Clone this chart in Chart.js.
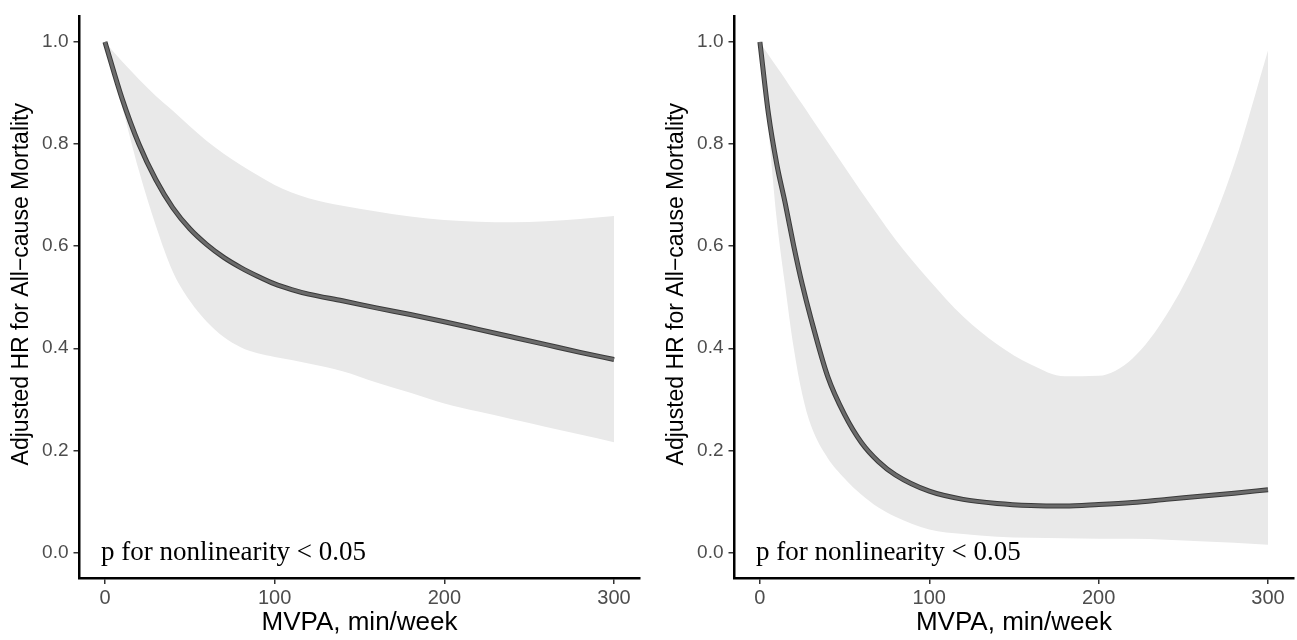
<!DOCTYPE html>
<html>
<head>
<meta charset="utf-8">
<script src="https://cdn.jsdelivr.net/npm/chart.js@4.4.1/dist/chart.umd.min.js"></script>
<style>
 html, body { margin: 0; padding: 0; background: #fff; }
 .panel { position: absolute; top: 0; height: 640px; }
 #leftWrap { left: 0; width: 648px; }
 #rightWrap { left: 655px; width: 642px; }
</style>
</head>
<body>
<div class="panel" id="leftWrap"><canvas id="leftChart"></canvas></div>
<div class="panel" id="rightWrap"><canvas id="rightChart"></canvas></div>
<script>
var leftMvpa = [0, 10, 20, 30, 40, 50, 60, 70, 80, 90, 100, 110, 120, 140, 160, 180, 200, 220, 240, 260, 280, 300];
var leftHr = [1.0, 0.89, 0.80, 0.73, 0.675, 0.634, 0.603, 0.578, 0.558, 0.541, 0.526, 0.515, 0.506, 0.493, 0.479, 0.466, 0.452, 0.437, 0.422, 0.407, 0.392, 0.378];
var leftUpper = [1.0, 0.962, 0.927, 0.894, 0.865, 0.835, 0.806, 0.781, 0.759, 0.739, 0.72, 0.705, 0.694, 0.679, 0.668, 0.658, 0.651, 0.648, 0.647, 0.649, 0.653, 0.659];
var leftLower = [1.0, 0.875, 0.748, 0.64, 0.55, 0.493, 0.452, 0.422, 0.402, 0.39, 0.383, 0.377, 0.37, 0.355, 0.333, 0.313, 0.292, 0.276, 0.261, 0.246, 0.231, 0.216];

var rightMvpa = [0, 5, 10, 15, 20, 25, 30, 40, 50, 60, 70, 80, 100, 120, 140, 160, 180, 200, 220, 240, 260, 280, 300];
var rightHr = [1.0, 0.86, 0.76, 0.683, 0.60, 0.525, 0.46, 0.345, 0.27, 0.215, 0.178, 0.152, 0.12, 0.104, 0.096, 0.092, 0.091, 0.094, 0.098, 0.104, 0.11, 0.116, 0.123];
var rightUpper = [1.0, 0.975, 0.951, 0.927, 0.902, 0.878, 0.853, 0.804, 0.755, 0.706, 0.659, 0.613, 0.533, 0.462, 0.408, 0.368, 0.345, 0.346, 0.38, 0.465, 0.59, 0.76, 0.983];
var rightLower = [1.0, 0.83, 0.65, 0.52, 0.40, 0.31, 0.25, 0.185, 0.145, 0.113, 0.088, 0.07, 0.045, 0.036, 0.031, 0.029, 0.028, 0.027, 0.027, 0.025, 0.022, 0.019, 0.015];

var xTicks = [0, 100, 200, 300];
var yTicks = [0.0, 0.2, 0.4, 0.6, 0.8, 1.0];
var xTitle = "MVPA, min/week";
var yTitle = "Adjusted HR for All\u2212cause Mortality";
var pText = "p for nonlinearity < 0.05";

var sansFont = "'Liberation Sans', Arial, Helvetica, sans-serif";

function toPoints(xs, ys) {
 return xs.map(function (x, i) {
  return { x: x, y: ys[i] };
 });
}

// p-value note at the bottom left, and the rotated y title
var notesPlugin = {
 id: "notes",
 afterDraw: function (chart) {
  var ctx = chart.ctx;
  var px = chart.scales.x.getPixelForValue(0) - 4;
  var py = chart.scales.y.getPixelForValue(0);
  ctx.save();
  ctx.font = "27px 'Liberation Serif', 'Times New Roman', serif";
  ctx.fillStyle = "#000";
  ctx.textAlign = "left";
  ctx.textBaseline = "middle";
  ctx.fillText(pText, px, py);
  ctx.restore();

  ctx.save();
  ctx.translate(22, chart.chartArea.top + chart.chartArea.height / 2 - 13);
  ctx.rotate(-Math.PI / 2);
  ctx.font = "23px " + sansFont;
  ctx.fillStyle = "#000";
  ctx.textAlign = "center";
  ctx.textBaseline = "middle";
  ctx.fillText(yTitle, 0, 0);
  ctx.restore();
 },
};

function drawPanel(canvasId, xs, hr, upper, lower, rightPad) {
 var data = {
  datasets: [
   {
    data: toPoints(xs, hr),
    borderColor: "#6b6b6b",
    borderWidth: 3,
    pointRadius: 0,
    fill: false,
    cubicInterpolationMode: "monotone",
   },
   {
    data: toPoints(xs, hr),
    borderColor: "#3a3a3a",
    borderWidth: 5,
    pointRadius: 0,
    fill: false,
    cubicInterpolationMode: "monotone",
   },
   {
    data: toPoints(xs, upper),
    borderColor: "rgba(0,0,0,0)",
    borderWidth: 0,
    backgroundColor: "#e9e9e9",
    pointRadius: 0,
    fill: "+1",
    cubicInterpolationMode: "monotone",
   },
   {
    data: toPoints(xs, lower),
    borderColor: "rgba(0,0,0,0)",
    borderWidth: 0,
    pointRadius: 0,
    fill: false,
    cubicInterpolationMode: "monotone",
   },
  ],
 };

 new Chart(document.getElementById(canvasId), {
  type: "line",
  data: data,
  plugins: [notesPlugin],
  options: {
   responsive: true,
   maintainAspectRatio: false,
   animation: false,
   layout: {
    padding: { top: 8, right: rightPad, left: 0, bottom: 0 },
   },
   plugins: {
    legend: { display: false },
    tooltip: { enabled: false },
   },
   scales: {
    x: {
     type: "linear",
     min: -15,
     max: 315,
     afterBuildTicks: function (scale) {
      scale.ticks = xTicks.map(function (v) { return { value: v }; });
     },
     afterFit: function (scale) {
      scale.height = 62;
     },
     grid: {
      drawOnChartArea: false,
      drawTicks: true,
      tickLength: 6,
      color: "#333",
      lineWidth: 1.5,
     },
     border: { display: true, color: "#000", width: 2.5 },
     ticks: {
      color: "#4d4d4d",
      padding: 2,
      maxRotation: 0,
      font: { family: sansFont, size: 20 },
     },
     title: {
      display: true,
      text: xTitle,
      color: "#000",
      padding: { top: 0, bottom: 2 },
      font: { family: sansFont, size: 26 },
     },
    },
    y: {
     type: "linear",
     min: -0.05,
     max: 1.05,
     afterBuildTicks: function (scale) {
      scale.ticks = yTicks.map(function (v) { return { value: v }; });
     },
     afterFit: function (scale) {
      scale.width = 79.5;
     },
     grid: {
      drawOnChartArea: false,
      drawTicks: true,
      tickLength: 6,
      color: "#333",
      lineWidth: 1.5,
     },
     border: { display: true, color: "#000", width: 2.5 },
     ticks: {
      color: "#4d4d4d",
      padding: 5,
      font: { family: sansFont, size: 19 },
      callback: function (v) {
       return Number(v).toFixed(1);
      },
     },
    },
   },
  },
 });
}

drawPanel("leftChart", leftMvpa, leftHr, leftUpper, leftLower, 8.5);
drawPanel("rightChart", rightMvpa, rightHr, rightUpper, rightLower, 3.6);
</script>
</body>
</html>
